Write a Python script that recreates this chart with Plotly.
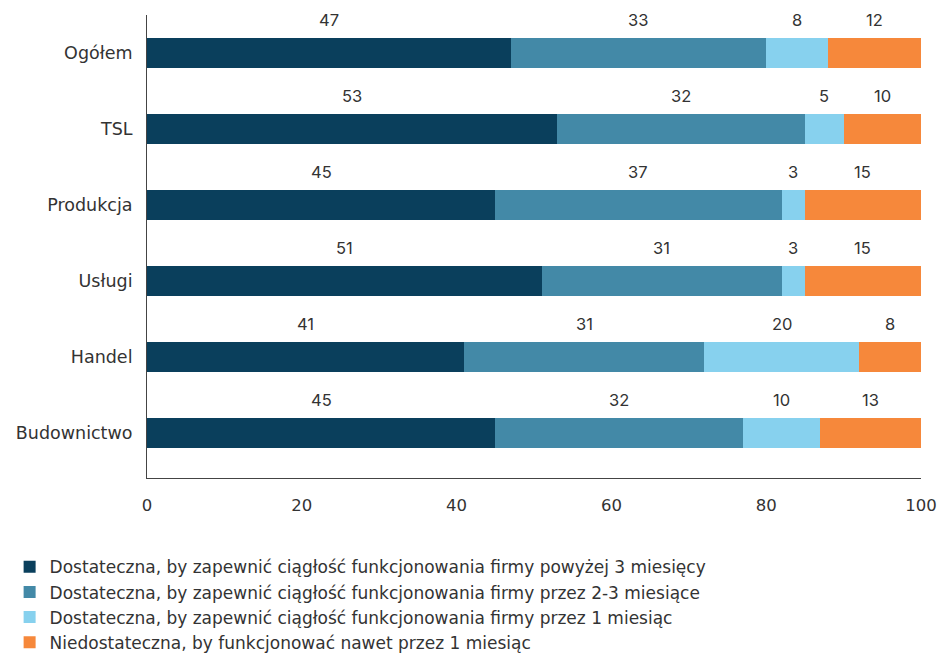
import plotly.graph_objects as go

categories = ["Ogółem", "TSL", "Produkcja", "Usługi", "Handel", "Budownictwo"]
series_names = [
    "Dostateczna, by zapewnić ciągłość funkcjonowania firmy powyżej 3 miesięcy",
    "Dostateczna, by zapewnić ciągłość funkcjonowania firmy przez 2-3 miesiące",
    "Dostateczna, by zapewnić ciągłość funkcjonowania firmy przez 1 miesiąc",
    "Niedostateczna, by funkcjonować nawet przez 1 miesiąc",
]
above_3 = [47, 53, 45, 51, 41, 45]
months_2_3 = [33, 32, 37, 31, 31, 32]
month_1 = [8, 5, 3, 3, 20, 10]
insufficient = [12, 10, 15, 15, 8, 13]
x_ticks = [0, 20, 40, 60, 80, 100]

colors = ["#0a3f5c", "#4389a7", "#87d1ee", "#f6883b"]
series = [above_3, months_2_3, month_1, insufficient]

FONT = "'DejaVu Sans', 'Noto Sans', sans-serif"
NUM_FONT = "Inter, 'Noto Sans', sans-serif"
TXT = 17.5
LEG = 17

fig = go.Figure()
for name, vals, col in zip(series_names, series, colors):
    fig.add_trace(go.Bar(
        y=categories, x=vals, name=name, orientation="h",
        marker=dict(color=col, line=dict(width=0)),
        hoverinfo="x+y",
    ))

annotations = []
for i, cat in enumerate(categories):
    cum = 0
    for vals in series:
        v = vals[i]
        annotations.append(dict(
            x=cum + v / 2, y=cat, xref="x", yref="y", text=str(v),
            showarrow=False, yshift=33,
            font=dict(family=NUM_FONT, size=16.5, color="#333333"),
        ))
        cum += v

fig.update_layout(
    width=937, height=654,
    margin=dict(l=147, r=16, t=15, b=176, autoexpand=False),
    barmode="stack", bargap=0.6,
    plot_bgcolor="white", paper_bgcolor="white",
    font=dict(family=FONT, size=TXT, color="#333333"),
    annotations=annotations,
    showlegend=True,
    legend=dict(
        orientation="v", traceorder="normal",
        x=-0.1775, xanchor="left", y=-0.154, yanchor="top",
        font=dict(family=FONT, size=LEG, color="#333333"),
        tracegroupgap=0, itemwidth=30,
    ),
    xaxis=dict(
        range=[0, 100], tickvals=x_ticks, showgrid=False, zeroline=False,
        showline=True, linecolor="#444444", linewidth=1, ticks="",
        ticklabelstandoff=12, tickfont=dict(size=16.5, color="#333333"),
        fixedrange=True,
    ),
    yaxis=dict(
        categoryorder="array", categoryarray=categories, autorange="reversed",
        showgrid=False, zeroline=False, showline=True, linecolor="#444444",
        linewidth=1, ticks="", ticklabelstandoff=10,
        tickfont=dict(size=TXT, color="#333333"), fixedrange=True,
    ),
)

fig.write_html("out.html")
